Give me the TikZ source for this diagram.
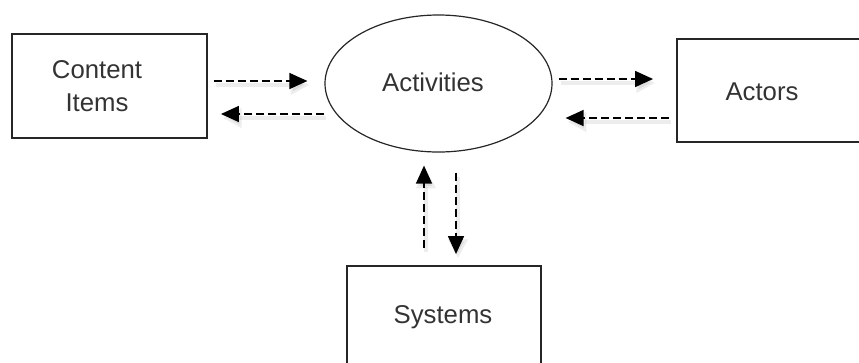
\documentclass[tikz,border=0pt]{standalone}
\usepackage{fontspec}
\setmainfont{Liberation Sans}
\usetikzlibrary{shapes.geometric,arrows.meta,calc}
\begin{document}
\begin{tikzpicture}[x=0.75pt,y=-0.75pt,
  box/.style={draw=black!85,line width=1.4pt,rectangle,inner sep=0pt},
  bubble/.style={draw=black!85,line width=0.9pt,ellipse,inner sep=0pt,
    minimum width=170.25pt,minimum height=102.75pt},
  lbl/.style={font=\fontsize{19.3}{24.75}\selectfont,text=black!80,align=center,inner sep=0pt},
  flow/.style={line width=1.1pt,dash pattern=on 6pt off 3pt,
    -{Triangle[length=13.5pt,width=12pt]}},
  shade/.style={line width=3.5pt,draw=black,opacity=0.07,
    -{Triangle[length=14pt,width=14pt]}}]
\useasboundingbox (0,0) rectangle (859,362);
\clip (0,0) rectangle (859,362);

% boxes and the central activity bubble
\node[box,minimum width=146.25pt,minimum height=78pt] (ci) at (109.5,86) {};
\node[bubble] (act) at (438.5,83.5) {};
\node[box,minimum width=152.25pt,minimum height=77.25pt] (actors) at (778.5,90.5) {};
\node[box,minimum width=145.5pt,minimum height=85.5pt] (sys) at (444,323) {};

% labels
\node[lbl] (citext) at (97,86) {Content\\Items};
\node[lbl] (acttext) at (433,82) {Activities};
\node[lbl] (actorstext) at (762,92) {Actors};
\node[lbl] (systext) at (443,317) {Systems};

% end points of the flows
\coordinate (a1) at ($(ci.east)+(6,-5)$);
\coordinate (a2) at ($(act.west)+(-17,-2.5)$);
\coordinate (b1) at ($(act.west)+(0,30.5)$);
\coordinate (b2) at ($(ci.east)+(13,28)$);
\coordinate (c1) at ($(act.east)+(6,-4.5)$);
\coordinate (c2) at ($(actors.west)+(-23,-11.5)$);
\coordinate (d1) at ($(actors.west)+(-7,27.5)$);
\coordinate (d2) at ($(act.east)+(13,34.5)$);
\coordinate (e1) at ($(act.south)+(17.5,20)$);
\coordinate (e2) at ($(sys.north)+(12,-11)$);
\coordinate (f1) at ($(sys.north)+(-20,-17)$);
\coordinate (f2) at ($(act.south)+(-14.5,13)$);

% soft shadows under the flows
\foreach \p/\q in {a1/a2,b1/b2,c1/c2,d1/d2,e1/e2,f1/f2}
  \draw[shade] ($(\p)+(2,4)$) -- ($(\q)+(2,4)$);

% dashed flows
\draw[flow] (a1) -- (a2);
\draw[flow] (b1) -- (b2);
\draw[flow] (c1) -- (c2);
\draw[flow] (d1) -- (d2);
\draw[flow] (e1) -- (e2);
\draw[flow] (f1) -- (f2);
\end{tikzpicture}
\end{document}
